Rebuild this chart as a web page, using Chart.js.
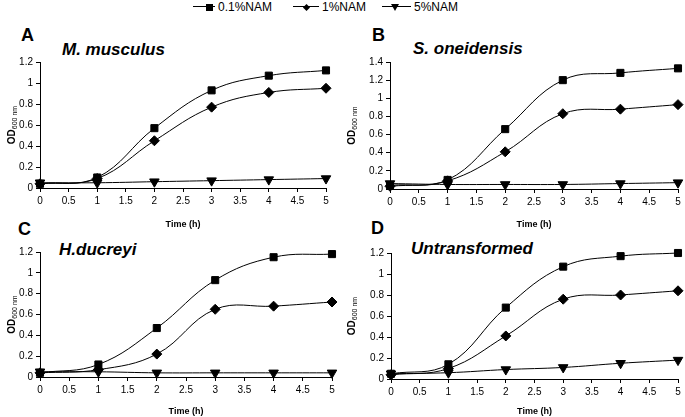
<!DOCTYPE html>
<html>
<head>
<meta charset="utf-8">
<script src="https://cdn.jsdelivr.net/npm/chart.js@4/dist/chart.umd.min.js"></script>
<style>
  body { margin:0; background:#fff; font-family:"Liberation Sans", Arial, sans-serif; }
  #wrap { position:relative; width:685px; height:417px; overflow:hidden; }
  canvas.panel { position:absolute; }
  .letter { position:absolute; font-weight:bold; font-size:18px; color:#000; }
  .title { position:absolute; font-weight:bold; font-style:italic; font-size:17px; color:#000; }
  .item { position:absolute; top:0px; white-space:nowrap; font-size:12px; color:#000; line-height:14px; }
  .sym { display:inline-block; position:relative; height:10px; vertical-align:-1px; margin-right:3px; }
  .sym .ln { position:absolute; left:0; right:0; top:4px; border-top:1.5px solid #000; }
  .sym .sq { position:absolute; top:1.5px; width:7px; height:7px; background:#000; }
  .sym .dm { position:absolute; top:2.5px; width:5px; height:5px; background:#000; transform:rotate(45deg); }
  .sym .tr { position:absolute; top:1.5px; width:0; height:0; border-left:4.5px solid transparent; border-right:4.5px solid transparent; border-top:7px solid #000; }
</style>
</head>
<body>
<div id="wrap">
  <span class="item" style="left:193px;"><span class="sym" style="width:22px;"><span class="ln"></span><span class="sq" style="left:13px;"></span></span>0.1%NAM</span>
  <span class="item" style="left:293px;"><span class="sym" style="width:26px;"><span class="ln"></span><span class="dm" style="left:11px;"></span></span>1%NAM</span>
  <span class="item" style="left:382px;"><span class="sym" style="width:29px;"><span class="ln"></span><span class="tr" style="left:9px;"></span></span>5%NAM</span>
  <div class="letter" style="left:21px;top:25px;">A</div>
  <div class="letter" style="left:372px;top:25px;">B</div>
  <div class="letter" style="left:18px;top:219px;">C</div>
  <div class="letter" style="left:371px;top:218px;">D</div>
  <div class="title" style="left:62px;top:40px;">M. musculus</div>
  <div class="title" style="left:413px;top:39px;">S. oneidensis</div>
  <div class="title" style="left:59px;top:240px;">H.ducreyi</div>
  <div class="title" style="left:411px;top:239px;">Untransformed</div>
  <canvas id="cA" class="panel" style="left:0;top:52px;" width="340" height="178"></canvas>
  <canvas id="cB" class="panel" style="left:340px;top:52px;" width="345" height="178"></canvas>
  <canvas id="cC" class="panel" style="left:0;top:240px;" width="340" height="177"></canvas>
  <canvas id="cD" class="panel" style="left:340px;top:240px;" width="345" height="177"></canvas>
</div>
<script>
// data
const timeH = [0, 1, 2, 3, 4, 5];
const seriesNames = ['0.1%NAM', '1%NAM', '5%NAM'];

const aNam01 = [0.04, 0.10, 0.57, 0.93, 1.07, 1.12];
const aNam1  = [0.04, 0.09, 0.45, 0.77, 0.91, 0.95];
const aNam5  = [0.05, 0.05, 0.06, 0.07, 0.08, 0.09];

const bNam01 = [0.04, 0.10, 0.66, 1.20, 1.28, 1.33];
const bNam1  = [0.03, 0.09, 0.41, 0.83, 0.88, 0.93];
const bNam5  = [0.06, 0.05, 0.05, 0.05, 0.06, 0.07];

const cNam01 = [0.04, 0.12, 0.47, 0.93, 1.15, 1.18];
const cNam1  = [0.04, 0.07, 0.22, 0.65, 0.68, 0.72];
const cNam5  = [0.05, 0.05, 0.04, 0.04, 0.04, 0.04];

const dNam01 = [0.05, 0.14, 0.68, 1.07, 1.17, 1.20];
const dNam1  = [0.04, 0.10, 0.41, 0.76, 0.80, 0.84];
const dNam5  = [0.05, 0.06, 0.09, 0.11, 0.15, 0.18];

const styles = [
  { pointStyle: 'rect', pointRadius: 5, rotation: 0 },
  { pointStyle: 'rectRot', pointRadius: 5, rotation: 0 },
  { pointStyle: 'triangle', pointRadius: 5.5, rotation: 180 }
];

// y title with subscript
const odTitle = {
  id: 'odTitle',
  afterDraw(chart) {
    const { ctx, chartArea } = chart;
    const cy = (chartArea.top + chartArea.bottom) / 2;
    ctx.save();
    ctx.translate(11, cy);
    ctx.rotate(-Math.PI / 2);
    ctx.fillStyle = '#000';
    ctx.textBaseline = 'alphabetic';
    ctx.font = 'bold 10px "Liberation Sans", Arial';
    const w1 = ctx.measureText('OD').width;
    ctx.font = '7px "Liberation Sans", Arial';
    const w2 = ctx.measureText('600 nm').width;
    let x = -(w1 + w2) / 2;
    ctx.font = 'bold 10px "Liberation Sans", Arial';
    ctx.fillText('OD', x, 4);
    ctx.font = '7px "Liberation Sans", Arial';
    ctx.fillText('600 nm', x + w1, 6);
    ctx.restore();
  }
};

const plainNum = v => String(Math.round(v * 10) / 10);

function makePanel(id, values, yMax, yWidth, padTop, padRight, xHeight) {
  const datasets = values.map((v, i) => ({
    label: seriesNames[i],
    data: timeH.map((t, k) => ({ x: t, y: v[k] })),
    borderColor: '#000',
    backgroundColor: '#000',
    borderWidth: 1,
    tension: 0.4,
    pointStyle: styles[i].pointStyle,
    pointRadius: styles[i].pointRadius,
    rotation: styles[i].rotation,
    clip: false
  }));
  return new Chart(document.getElementById(id), {
    type: 'line',
    data: { datasets },
    options: {
      responsive: false,
      animation: false,
      layout: { padding: { top: padTop, right: padRight, left: 0, bottom: 0 } },
      plugins: { legend: { display: false }, tooltip: { enabled: false } },
      scales: {
        x: {
          type: 'linear', min: 0, max: 5,
          ticks: { stepSize: 0.5, color: '#000', font: { size: 10 }, padding: 3, maxRotation: 0, callback: plainNum },
          grid: { drawOnChartArea: false, color: '#000', tickLength: 4 },
          border: { color: '#000', width: 1 },
          title: { display: true, text: 'Time (h)', color: '#000', font: { size: 9, weight: 'bold' }, padding: { top: 5, bottom: 0 } },
          afterFit: s => { s.height = xHeight; }
        },
        y: {
          min: 0, max: yMax,
          ticks: { stepSize: 0.2, color: '#000', font: { size: 10 }, padding: 3, callback: plainNum },
          grid: { drawOnChartArea: false, color: '#000', tickLength: 4 },
          border: { color: '#000', width: 1 },
          afterFit: s => { s.width = yWidth; }
        }
      }
    },
    plugins: [odTitle]
  });
}

makePanel('cA', [aNam01, aNam1, aNam5], 1.2, 40, 10, 14, 42);
makePanel('cB', [bNam01, bNam1, bNam5], 1.4, 50, 10, 7, 41);
makePanel('cC', [cNam01, cNam1, cNam5], 1.2, 40, 12, 8, 40);
makePanel('cD', [dNam01, dNam1, dNam5], 1.2, 51, 13, 7, 38);
</script>
</body>
</html>
